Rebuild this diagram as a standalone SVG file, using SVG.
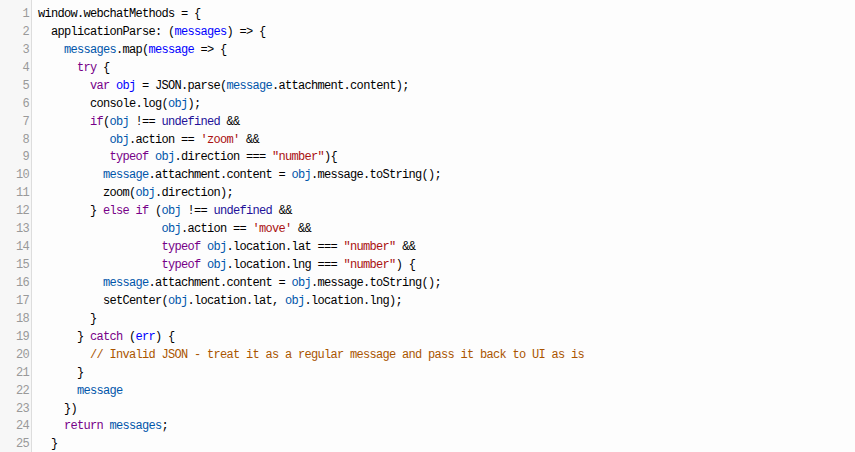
<svg xmlns="http://www.w3.org/2000/svg" width="855" height="452" viewBox="0 0 855 452">
<style>
text{font-family:"Liberation Mono","DejaVu Sans Mono",monospace;font-size:12px;letter-spacing:-0.7px;fill:#000;white-space:pre}
.ln{fill:#999;text-anchor:end}
.k{fill:#770088}
.d{fill:#0000ff}
.v{fill:#0055aa}
.a{fill:#221199}
.s{fill:#aa1111}
.c{fill:#aa5500}
</style>
<rect x="0" y="0" width="855" height="452" fill="#fdfdfd"/>
<rect x="0" y="0" width="31" height="452" fill="#f7f7f7"/>
<line x1="31.5" y1="0" x2="31.5" y2="452" stroke="#dddddd" stroke-width="1"/>
<g id="gutter">
<text class="ln" x="29" y="17">1</text>
<text class="ln" x="29" y="34.9">2</text>
<text class="ln" x="29" y="52.9">3</text>
<text class="ln" x="29" y="70.8">4</text>
<text class="ln" x="29" y="88.7">5</text>
<text class="ln" x="29" y="106.7">6</text>
<text class="ln" x="29" y="124.6">7</text>
<text class="ln" x="29" y="142.5">8</text>
<text class="ln" x="29" y="160.4">9</text>
<text class="ln" x="29" y="178.4">10</text>
<text class="ln" x="29" y="196.3">11</text>
<text class="ln" x="29" y="214.2">12</text>
<text class="ln" x="29" y="232.2">13</text>
<text class="ln" x="29" y="250.1">14</text>
<text class="ln" x="29" y="268">15</text>
<text class="ln" x="29" y="286">16</text>
<text class="ln" x="29" y="303.9">17</text>
<text class="ln" x="29" y="321.8">18</text>
<text class="ln" x="29" y="339.7">19</text>
<text class="ln" x="29" y="357.7">20</text>
<text class="ln" x="29" y="375.6">21</text>
<text class="ln" x="29" y="393.5">22</text>
<text class="ln" x="29" y="411.5">23</text>
<text class="ln" x="29" y="429.4">24</text>
<text class="ln" x="29" y="447.3">25</text>
</g>
<g id="code" xml:space="preserve">
<text x="38" y="17">window.webchatMethods = {</text>
<text x="38" y="34.9">  applicationParse: (<tspan class="d">messages</tspan>) =&gt; {</text>
<text x="38" y="52.9">    <tspan class="v">messages</tspan>.map(<tspan class="d">message</tspan> =&gt; {</text>
<text x="38" y="70.8">      <tspan class="k">try</tspan> {</text>
<text x="38" y="88.7">        <tspan class="k">var</tspan> <tspan class="d">obj</tspan> = JSON.parse(<tspan class="v">message</tspan>.attachment.content);</text>
<text x="38" y="106.7">        console.log(<tspan class="v">obj</tspan>);</text>
<text x="38" y="124.6">        <tspan class="k">if</tspan>(<tspan class="v">obj</tspan> !== <tspan class="a">undefined</tspan> &amp;&amp;</text>
<text x="38" y="142.5">           <tspan class="v">obj</tspan>.action == <tspan class="s">'zoom'</tspan> &amp;&amp;</text>
<text x="38" y="160.4">           <tspan class="k">typeof</tspan> <tspan class="v">obj</tspan>.direction === <tspan class="s">"number"</tspan>){</text>
<text x="38" y="178.4">          <tspan class="v">message</tspan>.attachment.content = <tspan class="v">obj</tspan>.message.toString();</text>
<text x="38" y="196.3">          zoom(<tspan class="v">obj</tspan>.direction);</text>
<text x="38" y="214.2">        } <tspan class="k">else</tspan> <tspan class="k">if</tspan> (<tspan class="v">obj</tspan> !== <tspan class="a">undefined</tspan> &amp;&amp;</text>
<text x="38" y="232.2">                   <tspan class="v">obj</tspan>.action == <tspan class="s">'move'</tspan> &amp;&amp;</text>
<text x="38" y="250.1">                   <tspan class="k">typeof</tspan> <tspan class="v">obj</tspan>.location.lat === <tspan class="s">"number"</tspan> &amp;&amp;</text>
<text x="38" y="268">                   <tspan class="k">typeof</tspan> <tspan class="v">obj</tspan>.location.lng === <tspan class="s">"number"</tspan>) {</text>
<text x="38" y="286">          <tspan class="v">message</tspan>.attachment.content = <tspan class="v">obj</tspan>.message.toString();</text>
<text x="38" y="303.9">          setCenter(<tspan class="v">obj</tspan>.location.lat, <tspan class="v">obj</tspan>.location.lng);</text>
<text x="38" y="321.8">        }</text>
<text x="38" y="339.7">      } <tspan class="k">catch</tspan> (<tspan class="d">err</tspan>) {</text>
<text x="38" y="357.7">        <tspan class="c">// Invalid JSON - treat it as a regular message and pass it back to UI as is</tspan></text>
<text x="38" y="375.6">      }</text>
<text x="38" y="393.5">      <tspan class="v">message</tspan></text>
<text x="38" y="411.5">    })</text>
<text x="38" y="429.4">    <tspan class="k">return</tspan> <tspan class="v">messages</tspan>;</text>
<text x="38" y="447.3">  }</text>
</g>
</svg>
